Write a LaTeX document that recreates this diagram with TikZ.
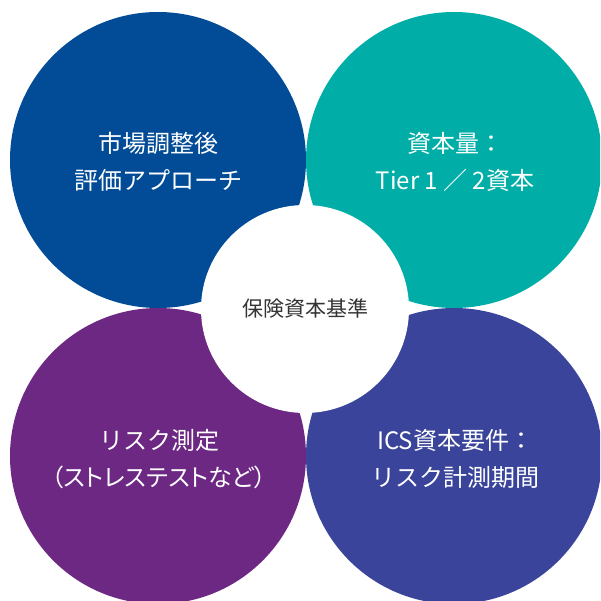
\documentclass[tikz,border=0pt]{standalone}
\usepackage{fontspec}
\setmainfont{Noto Sans CJK JP}
\newfontfamily\paltfont[RawFeature=+palt]{Noto Sans CJK JP}
\definecolor{cblue}{RGB}{2,76,151}
\definecolor{cteal}{RGB}{0,174,167}
\definecolor{cpurple}{RGB}{108,40,130}
\definecolor{cindigo}{RGB}{57,68,154}
\definecolor{ctext}{RGB}{51,51,51}
\tikzset{
  bigc/.style={circle, minimum size=296pt, inner sep=0pt},
  bigtext/.style={text=white, align=center, inner sep=0pt,
    font=\fontsize{24}{37}\selectfont},
  centerc/.style={circle, fill=white, minimum size=208pt, inner sep=0pt, text=ctext,
    font=\fontsize{21}{28}\selectfont}
}
\begin{document}
\begin{tikzpicture}[x=1pt,y=-1pt]
\useasboundingbox (0,0) rectangle (600,601);
\clip (0,0) rectangle (600,601);
\node[bigc, fill=cblue] (tl) at (158,160) {};
\node[bigc, fill=cteal] (tr) at (454,160) {};
\node[bigc, fill=cpurple] (bl) at (158,456) {};
\node[bigc, fill=cindigo] (br) at (454,456) {};
\node[bigtext] (tlt) at (158,162) {市場調整後\\評価アプローチ};
\node[bigtext] (trt) at (455,162) {資本量：\\Tier 1 ／ 2資本};
\node[bigtext] (blt) at (159,459) {リスク測定\\{\paltfont （ストレステストなど）}};
\node[bigtext] (brt) at (455,459) {ICS資本要件：\\リスク計測期間};
\node[centerc] (c) at (305,309) {保険資本基準};
\end{tikzpicture}
\end{document}
